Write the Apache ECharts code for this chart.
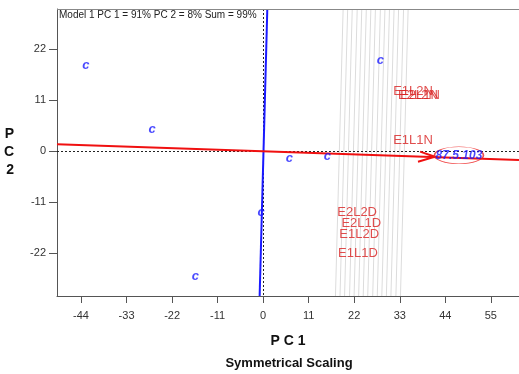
<!DOCTYPE html>
<html><head><meta charset="utf-8">
<script src="https://cdn.jsdelivr.net/npm/echarts@6/dist/echarts.min.js"></script>
<style>html,body{margin:0;padding:0;background:#fff}#c{width:519px;height:374px}</style>
</head><body><div id="c"></div>
<script>
// ---- data ----
const xRange = [-49.8, 61.8];
const yRange = [-31.2, 30.6];
const xTicks = [-44, -33, -22, -11, 0, 11, 22, 33, 44, 55];
const yTicks = [-22, -11, 0, 11, 22];
const genoLabels = ['c', 'c', 'c', 'c', 'c', 'c', 'c'];
const genoX = [-42.8, -26.8, -16.4, -0.5, 6.3, 15.5, 28.3];
const genoY = [18.5, 4.7, -26.9, -13.1, -1.5, -1.1, 19.6];
const envNames = ['E1L2N', 'E2L2N', 'E2L1N', 'E1L1N', 'E2L2D', 'E2L1D', 'E1L2D', 'E1L1D'];
const envX = [36.2, 37.4, 37.9, 36.2, 22.7, 23.7, 23.2, 22.9];
const envY = [12.8, 11.9, 11.9, 2.4, -13.1, -15.5, -17.9, -22.0];
const aecAbscissa = [[-49.8, 1.5], [61.8, -1.9]];
const aecOrdinate = [[1.0, 30.6], [-0.85, -31.2]];
const arrowHead = [[37.9, -0.1], [41.5, -1.2], [37.4, -2.3]];
const idealLabel = '87.5.103';
const idealPoint = [47.3, -0.9];
const contourX = [18.4, 19.5, 20.6, 21.8, 22.9, 24.0, 25.1, 26.2, 27.4, 28.5, 29.6, 30.7, 31.8, 33.0, 34.1];
const contourTilt = 0.030;
const titleText = 'Model 1 PC 1 = 91% PC 2 = 8% Sum = 99%';

// ---- chart ----
const FONT = '"Liberation Sans", Arial, sans-serif';
const chart = echarts.init(document.getElementById('c'), null, {renderer: 'canvas'});

const contourData = contourX.map(x0 => ({coords: [[x0 + contourTilt * yRange[1], yRange[1]], [x0 + contourTilt * yRange[0], yRange[0]]]}));

chart.setOption({
  animation: false,
  backgroundColor: '#fff',
  grid: {left: 57, top: 9, right: 0, bottom: 78, show: false},
  xAxis: {
    type: 'value', min: xRange[0], max: xRange[1],
    axisLine: {show: true, onZero: false, lineStyle: {color: '#555', width: 1}},
    axisTick: {show: true, length: 7, customValues: xTicks, lineStyle: {color: '#555'}},
    axisLabel: {customValues: xTicks, margin: 14, color: '#333', fontSize: 11, fontFamily: FONT},
    splitLine: {show: false},
    name: 'P C 1', nameLocation: 'middle', nameGap: 38,
    nameTextStyle: {fontWeight: 'bold', fontSize: 14, color: '#111', fontFamily: FONT}
  },
  yAxis: {
    type: 'value', min: yRange[0], max: yRange[1],
    axisLine: {show: true, onZero: false, lineStyle: {color: '#555', width: 1}},
    axisTick: {show: true, length: 8, customValues: yTicks, lineStyle: {color: '#555'}},
    axisLabel: {customValues: yTicks, margin: 11, color: '#333', fontSize: 11, fontFamily: FONT},
    splitLine: {show: false},
    name: 'P\nC\n2', nameLocation: 'middle', nameGap: 43, nameRotate: 0,
    nameTextStyle: {fontWeight: 'bold', fontSize: 14, color: '#111', lineHeight: 18, fontFamily: FONT}
  },
  graphic: [
    {type: 'line', shape: {x1: 57, y1: 9.5, x2: 519, y2: 9.5}, style: {stroke: '#888', lineWidth: 1}, z: 100},
    {type: 'text', left: 59, top: 10, style: {text: titleText, fill: '#222', font: '10px ' + FONT}, z: 100},
    {type: 'text', x: 289, y: 363, style: {text: 'Symmetrical Scaling', fill: '#111', font: 'bold 13px ' + FONT, align: 'center', verticalAlign: 'middle'}, z: 100}
  ],
  series: [
    {type: 'lines', coordinateSystem: 'cartesian2d', data: contourData, silent: true, z: 1,
     lineStyle: {color: '#dcdcdc', width: 1, opacity: 1}},
    {type: 'lines', coordinateSystem: 'cartesian2d', silent: true, z: 2,
     data: [{coords: [[xRange[0], 0], [xRange[1], 0]]}, {coords: [[0, yRange[1]], [0, yRange[0]]]}],
     lineStyle: {color: '#222', width: 1, type: [2, 2], opacity: 1}},
    {type: 'lines', coordinateSystem: 'cartesian2d', silent: true, z: 3,
     data: [{coords: aecOrdinate}], lineStyle: {color: '#1a1aff', width: 2, opacity: 1}},
    {type: 'lines', coordinateSystem: 'cartesian2d', silent: true, z: 4, polyline: true,
     data: [{coords: aecAbscissa}, {coords: arrowHead}], lineStyle: {color: '#f01010', width: 2, opacity: 1}},
    {type: 'scatter', z: 5, silent: true, symbol: 'circle', symbolSize: [49, 17],
     itemStyle: {color: 'rgba(255,255,255,0)', borderColor: '#ee2020', borderWidth: 1},
     data: [{value: idealPoint, name: idealLabel}],
     label: {show: true, position: 'inside', formatter: p => p.name, color: '#1a1aff', fontStyle: 'italic', fontWeight: 'bold', fontSize: 12, fontFamily: FONT}},
    {type: 'scatter', z: 6, silent: true, symbolSize: 0,
     data: genoX.map((x, i) => ({value: [x, genoY[i]], name: genoLabels[i]})),
     label: {show: true, position: 'inside', formatter: p => p.name, color: '#1a1aff', fontStyle: 'italic', fontWeight: 'bold', fontSize: 13, fontFamily: FONT}},
    {type: 'scatter', z: 6, silent: true, symbolSize: 0,
     data: envX.map((x, i) => ({value: [x, envY[i]], name: envNames[i]})),
     label: {show: true, position: 'inside', formatter: p => p.name, color: '#d82020', fontSize: 13, fontFamily: FONT}}
  ]
});
</script></body></html>
